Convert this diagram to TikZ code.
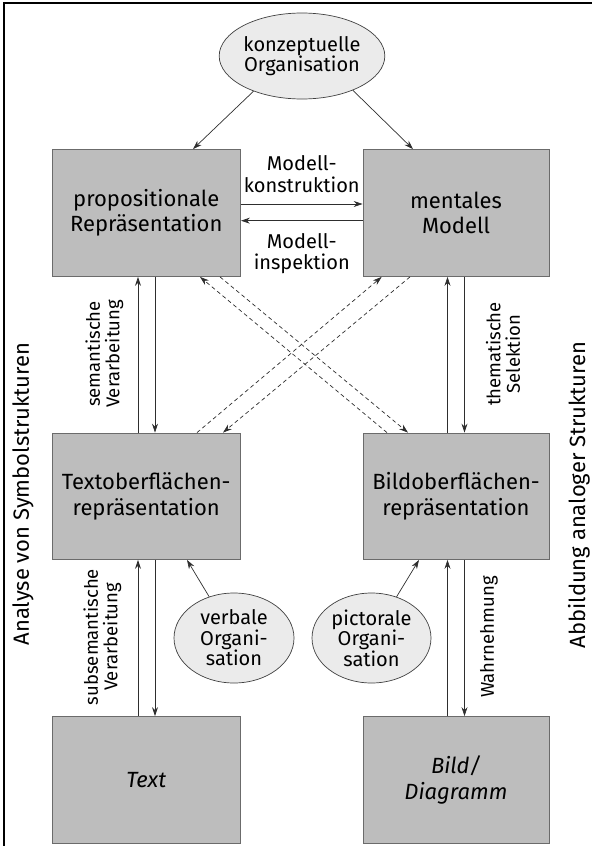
\documentclass[tikz,border=0pt]{standalone}
\usepackage{fontspec}
\setmainfont{Fira Sans}
\usetikzlibrary{shapes.geometric,arrows.meta}

\definecolor{boxfill}{gray}{0.74}
\definecolor{boxline}{gray}{0.42}
\definecolor{ovalfill}{gray}{0.92}
\definecolor{ovalline}{gray}{0.25}
\definecolor{arrowcol}{gray}{0.18}

\tikzset{
  stage/.style={draw=boxline, line width=0.8pt, fill=boxfill, align=center,
    inner sep=0pt, minimum height=127pt,
    font=\fontsize{22}{25.5}\selectfont},
  oval/.style={ellipse, draw=ovalline, line width=0.7pt, fill=ovalfill,
    align=center, inner sep=0pt, font=\fontsize{20}{20.5}\selectfont},
  flow/.style={draw=arrowcol, line width=0.7pt,
    -{Stealth[length=9pt,width=6pt]}},
  crossflow/.style={flow, dash pattern=on 4pt off 3pt},
  note/.style={align=center, font=\fontsize{20}{21.5}\selectfont},
  upnote/.style={align=center, rotate=90, font=\fontsize{18.5}{19.5}\selectfont},
  sidenote/.style={font=\fontsize{22}{26}\selectfont, rotate=90}
}

\begin{document}
\begin{tikzpicture}[x=1pt, y=-1pt]
  \useasboundingbox (0,0) rectangle (592,846);

  % frame
  \draw[line width=2.6pt] (4,846) -- (4,3) -- (592,3);

  % stages
  \node[stage, minimum width=188.5pt] (prop) at (146.25,213) {propositionale\\Repräsentation};
  \node[stage, minimum width=186pt]   (mm)   at (456,213)    {mentales\\Modell};
  \node[stage, minimum width=188.5pt, minimum height=126.5pt] (tob) at (146.25,496.25) {Textoberflächen-\\repräsentation};
  \node[stage, minimum width=186pt,   minimum height=126.5pt] (bob) at (456,496.25)    {Bildoberflächen-\\repräsentation};
  \node[stage, minimum width=188.5pt, minimum height=126.5pt] (txt) at (146.25,779.75) {\itshape Text};
  \node[stage, minimum width=186pt,   minimum height=126.5pt] (bild) at (456,779.75)   {\itshape Bild/\\\itshape Diagramm};

  % organisation ovals
  \node[oval, minimum width=142pt, minimum height=86pt] (konz) at (302,56) {konzeptuelle\\Organisation};
  \node[oval, minimum width=120pt, minimum height=90pt] (verb) at (234,638) {verbale\\Organi-\\sation};
  \node[oval, minimum width=119pt, minimum height=90pt] (pict) at (371.5,638) {pictorale\\Organi-\\sation};

  % conceptual organisation feeds both upper stages
  \draw[flow] (konz.216) -- ([xshift=46.75pt]prop.north);
  \draw[flow] (konz.326) -- ([xshift=-43pt]mm.north);

  % model construction and inspection
  \draw[flow] ([yshift=9pt]prop.east) -- ([yshift=9pt]mm.west);
  \draw[flow] ([yshift=-7.7pt]mm.west) -- ([yshift=-7.7pt]prop.east);
  \node[note] (konstr) at (301.75,174) {Modell-\\konstruktion};
  \node[note] (inspek) at (301.75,253.5) {Modell-\\inspektion};

  % left column
  \draw[flow] ([xshift=-8.25pt]tob.north) -- ([xshift=-8.25pt]prop.south);
  \draw[flow] ([xshift=8.75pt]prop.south) -- ([xshift=8.75pt]tob.north);
  \draw[flow] ([xshift=-8.25pt]txt.north) -- ([xshift=-8.25pt]tob.south);
  \draw[flow] ([xshift=8.75pt]tob.south) -- ([xshift=8.75pt]txt.north);
  \node[upnote] (sem) at (104.5,354) {semantische\\Verarbeitung};
  \node[upnote] (subsem) at (102.5,637) {subsemantische\\Verarbeitung};

  % right column
  \draw[flow] ([xshift=-8.5pt]bob.north) -- ([xshift=-8.5pt]mm.south);
  \draw[flow] ([xshift=8.5pt]mm.south) -- ([xshift=8.5pt]bob.north);
  \draw[flow] ([xshift=-8.5pt]bild.north) -- ([xshift=-8.5pt]bob.south);
  \draw[flow] ([xshift=8.5pt]bob.south) -- ([xshift=8.5pt]bild.north);
  \node[upnote] (them) at (503,354) {thematische\\Selektion};
  \node[upnote] (wahr) at (489,637) {Wahrnehmung};

  % cross connections
  \draw[crossflow] ([xshift=-69pt]bob.north) -- ([xshift=53.75pt]prop.south);
  \draw[crossflow] ([xshift=73.75pt]prop.south) -- ([xshift=-48pt]bob.north);
  \draw[crossflow] ([xshift=50.75pt]tob.north) -- ([xshift=-74.3pt]mm.south);
  \draw[crossflow] ([xshift=-46pt]mm.south) -- ([xshift=76.75pt]tob.north);

  % verbal and pictorial organisation
  \draw[flow] (verb) -- ([xshift=40.75pt]tob.south);
  \draw[flow] (pict) -- ([xshift=-37pt]bob.south);

  % side captions
  \node[sidenote] (links) at (23,494) {Analyse von Symbolstrukturen};
  \node[sidenote] (rechts) at (579,495) {Abbildung analoger Strukturen};
\end{tikzpicture}
\end{document}
